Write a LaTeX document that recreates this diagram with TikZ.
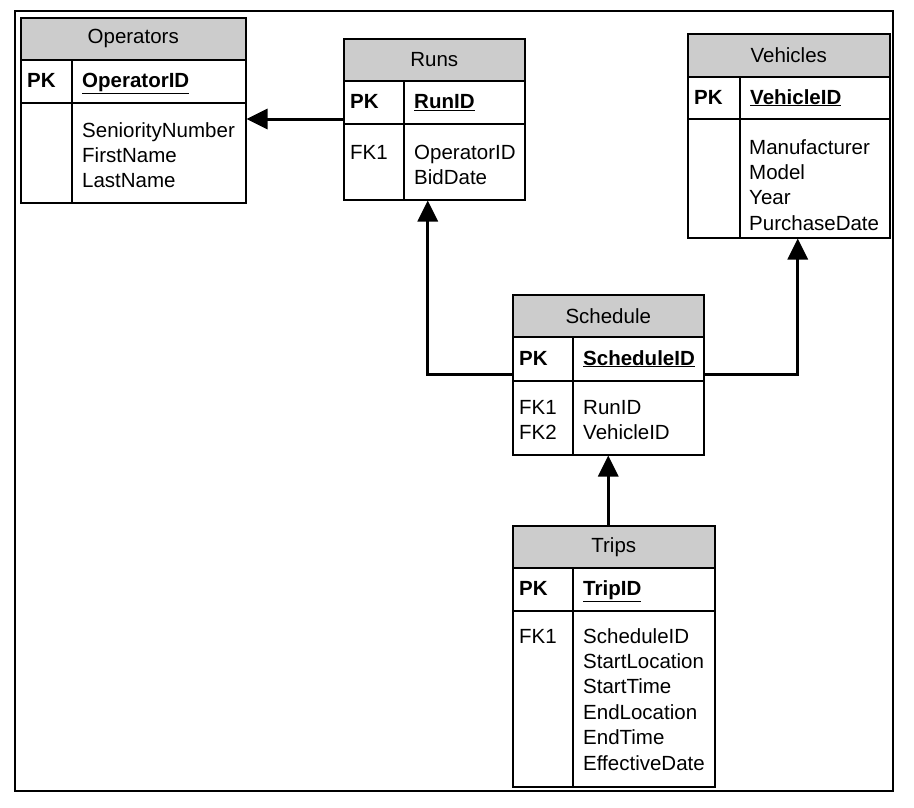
\documentclass[tikz,border=0pt]{standalone}
\usepackage{fontspec}
\setmainfont{Liberation Sans}
\usetikzlibrary{arrows.meta}
\definecolor{hdrgray}{HTML}{CCCCCC}
\tikzset{
  x=1pt, y=1pt,
  tline/.style={draw=black, line width=1.5pt},
  hdr/.style={tline, fill=hdrgray, anchor=north west, inner sep=0pt, font=\fontsize{20.5}{24}\selectfont},
  rowbox/.style={tline, fill=white, anchor=north west, inner sep=0pt},
  txt/.style={inner sep=0pt, font=\fontsize{20.5}{24}\selectfont},
  conn/.style={draw=black, line width=3pt, -{Triangle[length=21pt,width=20pt]}},
}
\newcommand\ertab[9]{%
  % #1 name, #2 x1, #3 x2, #4 xdiv, #5 y0, #6 y1, #7 y2, #8 y3, #9 title
  \node[hdr, minimum width={#3-#2}, minimum height={#6-#5}] (#1-h) at (#2,-#5) {#9};
  \node[rowbox, minimum width={#3-#2}, minimum height={#7-#6}] (#1-pk) at (#2,-#6) {};
  \node[rowbox, minimum width={#3-#2}, minimum height={#8-#7}] (#1-b) at (#2,-#7) {};
  \draw[tline] (#1-pk.north -| #4,0) -- (#1-b.south -| #4,0);
}
\newcommand\pkrow[5]{%
  % #1 name, #2 x1, #3 xdiv, #4 ycenter, #5 field
  \node[txt, anchor=base west] (#1-pkl) at (#2+7,{-#4-7}) {\textbf{PK}};
  \node[txt, anchor=base west] (#1-pkf) at (#3+10,{-#4-7}) {\textbf{\underline{#5}}};
}
\newcommand\lineset[4]{%
  % #1 name prefix, #2 x, #3 baseline of first line, #4 list
  \foreach \t [count=\i from 0] in {#4} {
    \node[txt, anchor=base west] (#1-\i) at (#2,{-#3-25.4*\i}) {\t};
  }
}
\begin{document}
\begin{tikzpicture}
\useasboundingbox (0,0) rectangle (914,-807);
\fill[white] (0,0) rectangle (914,-807);
\draw[line width=1.3pt] (15,-11) rectangle (893,-791);

% Operators
\ertab{op}{20}{245}{72}{17}{59}{102}{202}{Operators}
\pkrow{op}{20}{72}{80.5}{OperatorID}
\lineset{opf}{82}{137}{SeniorityNumber,FirstName,LastName}

% Runs
\ertab{runs}{343}{524}{404}{38}{80}{123}{199}{Runs}
\pkrow{runs}{343}{404}{101.5}{RunID}
\lineset{runsk}{350}{159}{FK1}
\lineset{runsf}{414}{159}{OperatorID,BidDate}

% Vehicles
\ertab{veh}{687}{889}{740}{33}{76}{118}{237}{Vehicles}
\pkrow{veh}{687}{740}{97}{VehicleID}
\lineset{vehf}{749}{154}{Manufacturer,Model,Year,PurchaseDate}

% Schedule
\ertab{sch}{512}{703}{573}{294}{336}{380}{454}{Schedule}
\pkrow{sch}{512}{573}{358}{ScheduleID}
\lineset{schk}{519}{414}{FK1,FK2}
\lineset{schf}{583}{414}{RunID,VehicleID}

% Trips
\ertab{trips}{512}{714}{573}{525}{567}{610}{786}{Trips}
\pkrow{trips}{512}{573}{588.5}{TripID}
\lineset{tripsk}{519}{643}{FK1}
\lineset{tripsf}{583}{643}{ScheduleID,StartLocation,StartTime,EndLocation,EndTime,EffectiveDate}

% Connectors
\draw[conn] ([yshift=5.5pt]runs-pk.south west) -- ([yshift=5.5pt]runs-pk.south west -| op-b.east);
\draw[conn] ([yshift=7pt]sch-pk.south west) -| ([xshift=-6.5pt]runs-b.south);
\draw[conn] ([yshift=7pt]sch-pk.south east) -| ([xshift=9pt]veh-b.south);
\draw[conn] (trips-h.north -| sch-b.south) -- (sch-b.south);
\end{tikzpicture}
\end{document}
